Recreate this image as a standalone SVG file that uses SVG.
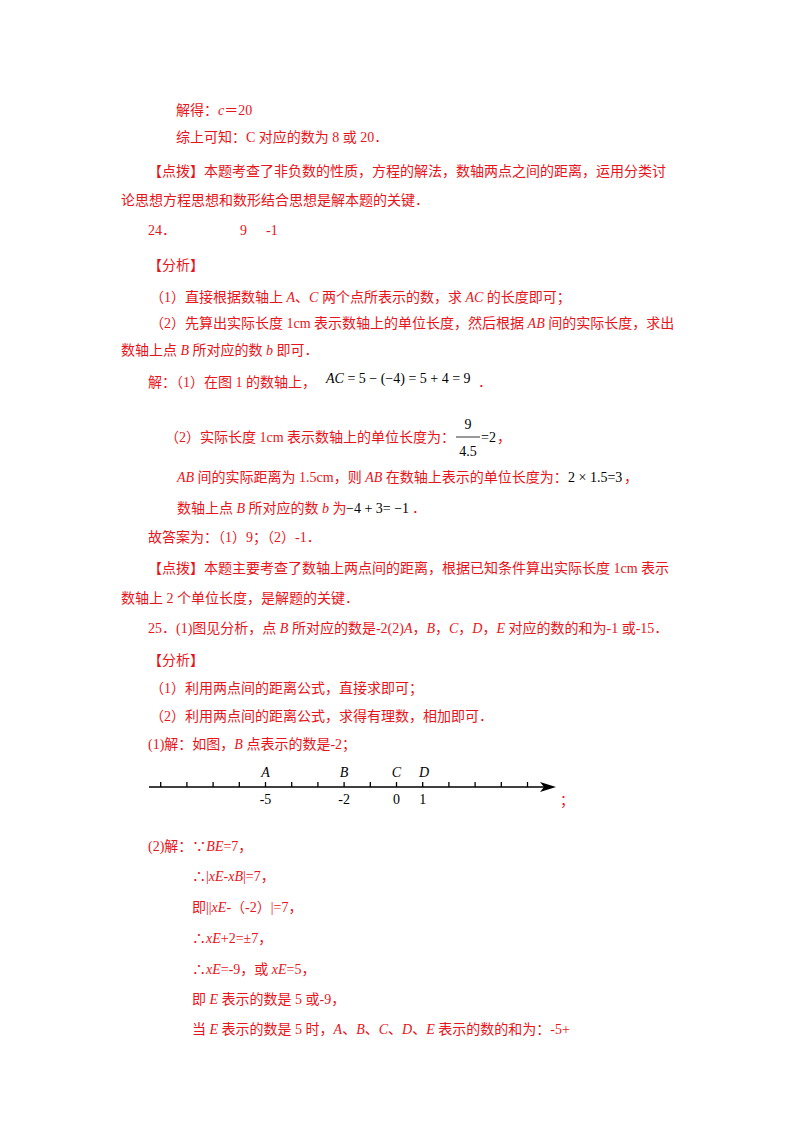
<svg xmlns="http://www.w3.org/2000/svg" width="800" height="1132" viewBox="0 0 800 1132">
<style>
text{font-family:"Liberation Serif","Noto Sans CJK SC",serif;font-size:14px;fill:#e8141b}
.k{fill:#000}
.i{font-style:italic}
.ax line{stroke:#000;stroke-width:1.3}
</style>
<rect width="800" height="1132" fill="#fff"/>
<g id="text">
<text x="176" y="115">解得：<tspan class="i">c</tspan>＝20</text>
<text x="176" y="142">综上可知：C 对应的数为 8 或 20．</text>
<text x="148" y="176">【点拨】本题考查了非负数的性质，方程的解法，数轴两点之间的距离，运用分类讨</text>
<text x="121" y="205">论思想方程思想和数形结合思想是解本题的关键．</text>
<text x="148" y="235">24．</text><text x="240" y="235">9</text><text x="266" y="235">-1</text>
<text x="148" y="270">【分析】</text>
<text x="150" y="302">（1）直接根据数轴上 <tspan class="i">A</tspan>、<tspan class="i">C</tspan> 两个点所表示的数，求 <tspan class="i">AC</tspan> 的长度即可；</text>
<text x="150" y="328">（2）先算出实际长度 1cm 表示数轴上的单位长度，然后根据 <tspan class="i">AB</tspan> 间的实际长度，求出</text>
<text x="121" y="355">数轴上点 <tspan class="i">B</tspan> 所对应的数 <tspan class="i">b</tspan> 即可．</text>
<text x="148" y="387">解：（1）在图 1 的数轴上，</text>
<text x="326" y="383" class="k"><tspan class="i">AC</tspan> = 5 − (−4) = 5 + 4 = 9</text><text x="478" y="387">．</text>
<text x="165" y="442">（2）实际长度 1cm 表示数轴上的单位长度为：</text>
<text x="468" y="429" class="k" text-anchor="middle">9</text>
<line x1="456" y1="437" x2="480" y2="437" stroke="#000" stroke-width="0.8"/>
<text x="468" y="456" class="k" text-anchor="middle">4.5</text>
<text x="481" y="442" class="k">=2</text><text x="497" y="442">，</text>
<text x="177" y="482"><tspan class="i">AB</tspan> 间的实际距离为 1.5cm，则 <tspan class="i">AB</tspan> 在数轴上表示的单位长度为：</text>
<text x="568" y="482" class="k">2 × 1.5=3</text><text x="624" y="482">，</text>
<text x="177" y="513">数轴上点 <tspan class="i">B</tspan> 所对应的数 <tspan class="i">b</tspan> 为</text>
<text x="346" y="513" class="k">−4 + 3= −1</text><text x="412" y="513">．</text>
<text x="148" y="542">故答案为：（1）9；（2）-1．</text>
<text x="148" y="573">【点拨】本题主要考查了数轴上两点间的距离，根据已知条件算出实际长度 1cm 表示</text>
<text x="121" y="603">数轴上 2 个单位长度，是解题的关键．</text>
<text x="148" y="633">25．(1)图见分析，点 <tspan class="i">B</tspan> 所对应的数是-2(2)<tspan class="i">A</tspan>，<tspan class="i">B</tspan>，<tspan class="i">C</tspan>，<tspan class="i">D</tspan>，<tspan class="i">E</tspan> 对应的数的和为-1 或-15．</text>
<text x="148" y="665">【分析】</text>
<text x="150" y="693">（1）利用两点间的距离公式，直接求即可；</text>
<text x="150" y="721">（2）利用两点间的距离公式，求得有理数，相加即可．</text>
<text x="148" y="749">(1)解：如图，<tspan class="i">B</tspan> 点表示的数是-2；</text>
<text x="560" y="805">；</text>
<text x="148" y="851">(2)解：∵<tspan class="i">BE</tspan>=7，</text>
<text x="192" y="881">∴|<tspan class="i">xE</tspan>-<tspan class="i">xB</tspan>|=7，</text>
<text x="192" y="912">即||<tspan class="i">xE</tspan>-（-2）|=7，</text>
<text x="192" y="943">∴<tspan class="i">xE</tspan>+2=±7，</text>
<text x="192" y="974">∴<tspan class="i">xE</tspan>=-9，或 <tspan class="i">xE</tspan>=5，</text>
<text x="192" y="1004">即 <tspan class="i">E</tspan> 表示的数是 5 或-9，</text>
<text x="192" y="1034">当 <tspan class="i">E</tspan> 表示的数是 5 时，<tspan class="i">A</tspan>、<tspan class="i">B</tspan>、<tspan class="i">C</tspan>、<tspan class="i">D</tspan>、<tspan class="i">E</tspan> 表示的数的和为：-5+</text>
</g>
<g id="axis" class="ax">
<line x1="149" y1="787" x2="548" y2="787"/>
<path d="M556 787 L540 782 L544 787 L540 792 Z" fill="#000"/>
<g>
<line x1="160.7" y1="787" x2="160.7" y2="782"/><line x1="186.9" y1="787" x2="186.9" y2="782"/><line x1="213.1" y1="787" x2="213.1" y2="782"/><line x1="239.3" y1="787" x2="239.3" y2="782"/><line x1="265.5" y1="787" x2="265.5" y2="782"/><line x1="291.7" y1="787" x2="291.7" y2="782"/><line x1="317.9" y1="787" x2="317.9" y2="782"/><line x1="344.1" y1="787" x2="344.1" y2="782"/><line x1="370.3" y1="787" x2="370.3" y2="782"/><line x1="396.5" y1="787" x2="396.5" y2="782"/><line x1="422.7" y1="787" x2="422.7" y2="782"/><line x1="448.9" y1="787" x2="448.9" y2="782"/><line x1="475.1" y1="787" x2="475.1" y2="782"/><line x1="501.3" y1="787" x2="501.3" y2="782"/><line x1="527.5" y1="787" x2="527.5" y2="782"/>
</g>
<text class="k i" x="265.5" y="777" text-anchor="middle" font-size="13">A</text>
<text class="k i" x="344.1" y="777" text-anchor="middle" font-size="13">B</text>
<text class="k i" x="396.5" y="777" text-anchor="middle" font-size="13">C</text>
<text class="k i" x="424" y="777" text-anchor="middle" font-size="13">D</text>
<text class="k" x="265.5" y="804" text-anchor="middle" font-size="13">-5</text>
<text class="k" x="344.1" y="804" text-anchor="middle" font-size="13">-2</text>
<text class="k" x="396.5" y="804" text-anchor="middle" font-size="13">0</text>
<text class="k" x="422.7" y="804" text-anchor="middle" font-size="13">1</text>
</g>
</svg>
